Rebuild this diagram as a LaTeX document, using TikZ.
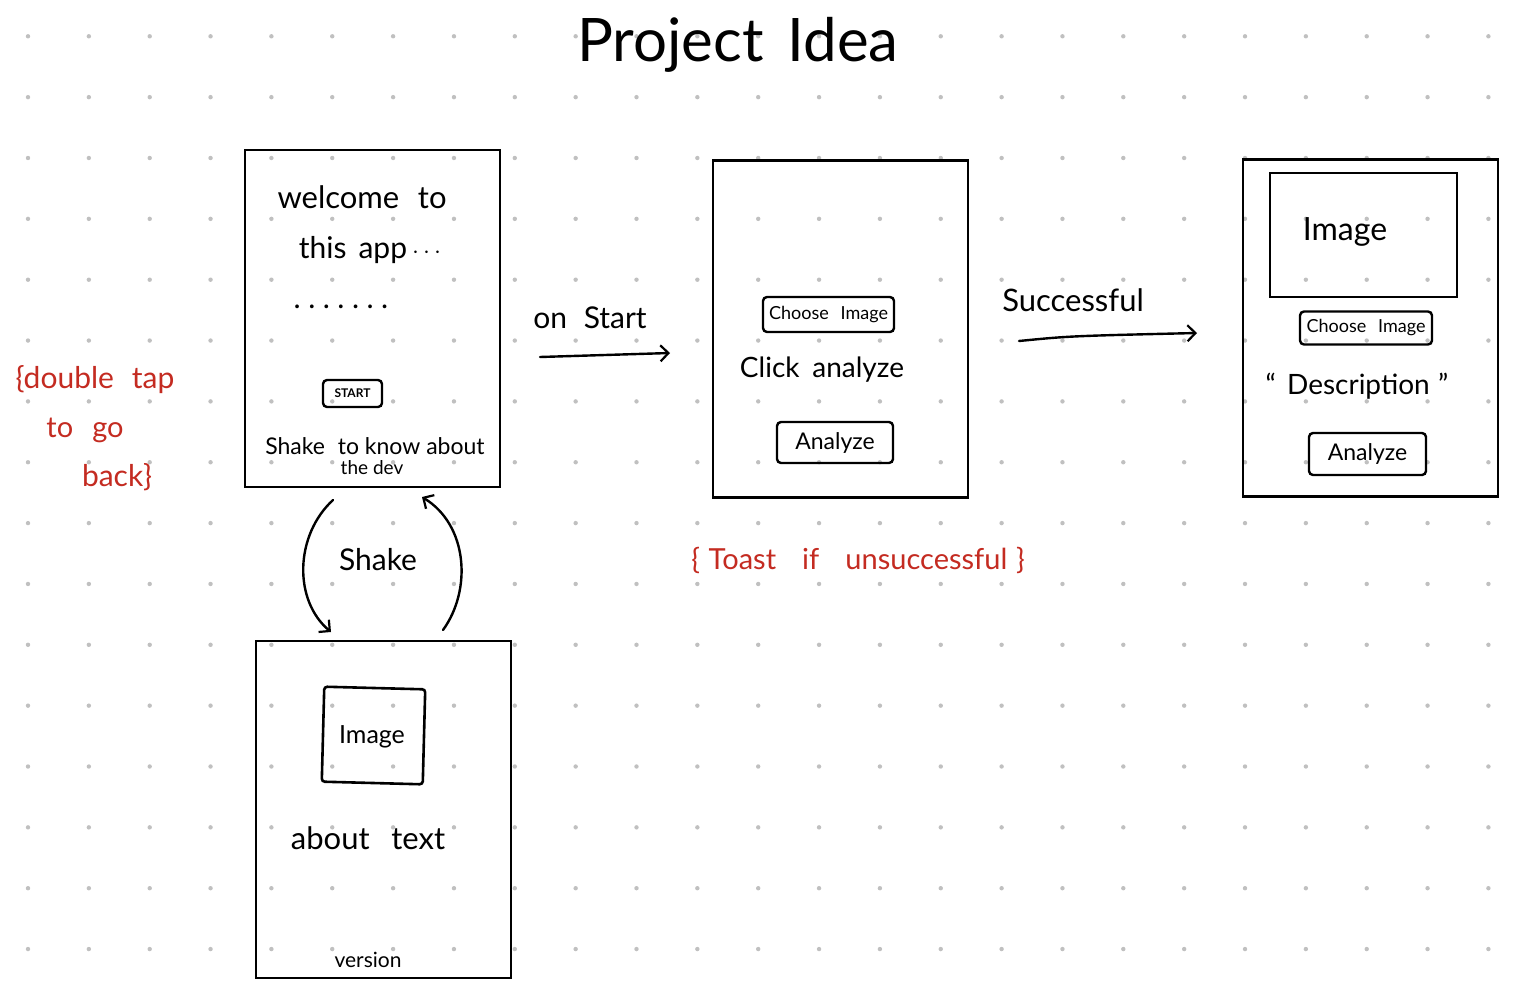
\documentclass[tikz,border=0pt]{standalone}
\usepackage{fontspec}
\setmainfont{Lato}
\usetikzlibrary{arrows.meta}
\definecolor{dotc}{RGB}{192,192,192}
\definecolor{redink}{RGB}{196,43,33}
\newcommand\fsz[1]{\fontsize{#1}{#1}\selectfont}
\begin{document}
\begin{tikzpicture}[x=1pt,y=-1pt,
  screen/.style={draw, line width=2.6pt, minimum width=255pt, minimum height=337pt, inner sep=0pt},
  btn/.style={draw, line width=2.4pt, rounded corners=4pt, inner sep=0pt},
  pic/.style={draw, line width=2.6pt, inner sep=0pt},
  ink/.style={text=black, inner sep=0pt},
  red/.style={text=redink, inner sep=0pt},
  arr/.style={line width=2.4pt, -{Straight Barb[length=8pt,width=16pt,line width=2.2pt]}, line cap=round}
]
\useasboundingbox (0,0) rectangle (1523,998);
\fill[white] (0,0) rectangle (1523,998);
% dot grid
\foreach \i in {0,...,24}
  \foreach \j in {0,...,15}
    \fill[dotc] (28+\i*60.85, 36.3+\j*60.85) circle (2.2);

% title
\node[ink] (title) at (738,45) {\fsz{60}Project\hspace{0.4em}Idea};

% screens
\node[screen] (s1) at (372.5,318.5) {};
\node[screen] (s2) at (840.5,329) {};
\node[screen] (s3) at (1370.5,328) {};
\node[screen] (s4) at (383.5,809.5) {};

% screen 1 content
\node[ink] (w1) at (362,197) {\fsz{31}welcome\hspace{0.6em}to};
\node[ink] (w2) at (370,250) {\fsz{30}this\hspace{0.4em}app\,$\cdots$};
\node[ink] (w3) at (341,307) {\fsz{30}.\hspace{0.25em}.\hspace{0.25em}.\hspace{0.25em}.\hspace{0.25em}.\hspace{0.25em}.\hspace{0.25em}.};
\node[btn, minimum width=59pt, minimum height=27pt] (startb) at (352.5,393.5) {\fsz{12}\textbf{START}};
\node[ink] (w4) at (375,446) {\fsz{23}Shake\hspace{0.3em} to know about};
\node[ink] (w5) at (372,468) {\fsz{19}the dev};

% screen 2 content
\node[btn, minimum width=131pt, minimum height=35pt] (choose2) at (828.5,314.5) {\fsz{18}Choose\hspace{0.4em} Image};
\node[ink] (click) at (822,370) {\fsz{28}Click\hspace{0.2em} analyze};
\node[btn, minimum width=116pt, minimum height=41pt] (an2) at (835,442.5) {\fsz{23}Analyze};

% screen 3 content
\node[pic, minimum width=187pt, minimum height=124pt] (img3) at (1363.5,235) {};
\node[ink] (img3t) at (1345,232) {\fsz{32}Image};
\node[btn, minimum width=132pt, minimum height=33pt] (choose3) at (1366,328) {\fsz{18}Choose\hspace{0.4em} Image};
\node[ink] (desc) at (1357,386) {\fsz{28}\char"201C\hspace{0.4em}Description\hspace{0.3em}\char"201D};
\node[btn, minimum width=117pt, minimum height=42pt] (an3) at (1367.5,454) {\fsz{23}Analyze};

% screen 4 content
\node[pic, minimum width=101pt, minimum height=95pt, rounded corners=3pt, rotate=-1.5] (img4) at (373.5,735.5) {};
\node[ink] (img4t) at (372,737) {\fsz{25}Image};
\node[ink] (about) at (368,838) {\fsz{31}about\hspace{0.7em}text};
\node[ink] (ver) at (368,960) {\fsz{21}version};

% arrows and labels
\coordinate (a1s) at (540,357);
\coordinate (a1e) at (670,353);
\draw[arr] (a1s) -- (a1e);
\node[ink] (onstart) at (590,318) {\fsz{30}on\hspace{0.3em} Start};

\coordinate (a2s) at (1019,341);
\coordinate (a2e) at (1197,333);
\draw[arr] (a2s) .. controls (1070,336) .. (a2e);
\node[ink] (succ) at (1073,300) {\fsz{31}Successful};

\coordinate (b1s) at (333,500);
\coordinate (b1e) at (331,632);
\draw[arr] (b1s) .. controls (295,535) and (293,600) .. (b1e);
\coordinate (b2s) at (443,630);
\coordinate (b2e) at (422,497);
\draw[arr] (b2s) .. controls (472,590) and (468,525) .. (b2e);
\node[ink] (shake) at (378,560) {\fsz{30}Shake};

% red notes
\node[red] (n1) at (95,380) {\fsz{30}\{double\hspace{0.6em}tap};
\node[red] (n2) at (85,430) {\fsz{29}to\hspace{0.4em} go};
\node[red] (n3) at (117,477) {\fsz{30}back\}};
\node[red] (toast) at (858,560) {\fsz{29}\{\hspace{0.3em}Toast\hspace{0.9em}if\hspace{0.9em}unsuccessful\hspace{0.3em}\}};
\end{tikzpicture}
\end{document}
